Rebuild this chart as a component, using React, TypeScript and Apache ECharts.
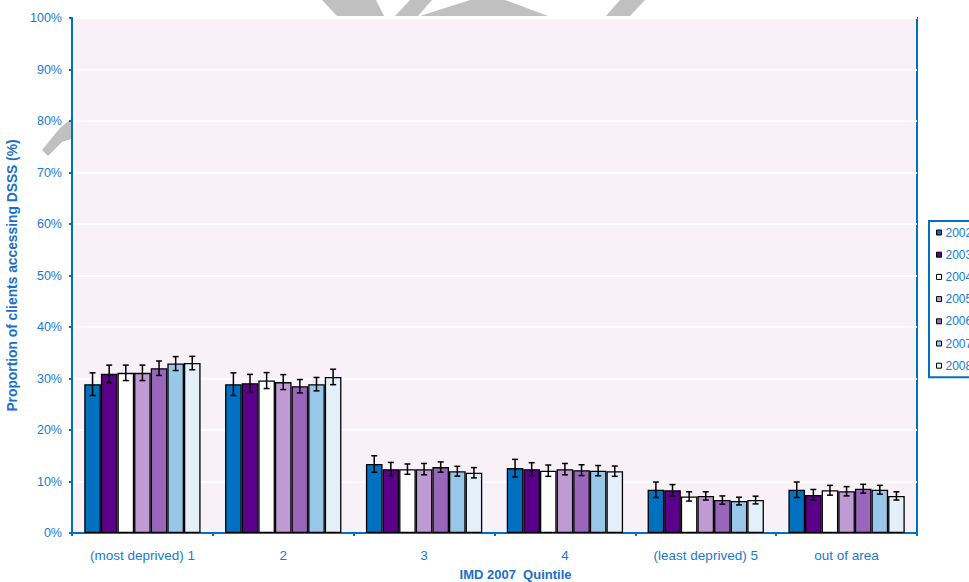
import React, { useEffect, useRef } from "react";
import * as echarts from "echarts";

const categories = ["(most deprived) 1", "2", "3", "4", "(least deprived) 5", "out of area"];
const years = ["2002", "2003", "2004", "2005", "2006", "2007", "2008"];

const v2002 = [28.9, 28.9, 13.4, 12.6, 8.4, 8.4];
const v2003 = [30.9, 29.1, 12.4, 12.4, 8.3, 7.4];
const v2004 = [31.1, 29.6, 12.4, 12.1, 7.1, 8.3];
const v2005 = [31.1, 29.3, 12.4, 12.4, 7.2, 8.1];
const v2006 = [32.0, 28.5, 12.8, 12.2, 6.4, 8.6];
const v2007 = [32.9, 28.9, 12.0, 12.1, 6.2, 8.4];
const v2008 = [33.0, 30.3, 11.7, 12.0, 6.4, 7.2];

const e2002 = [2.2, 2.2, 1.6, 1.7, 1.5, 1.5];
const e2003 = [1.7, 1.7, 1.3, 1.25, 1.1, 1.05];
const e2004 = [1.5, 1.55, 1.0, 1.1, 0.9, 0.95];
const e2005 = [1.5, 1.45, 1.1, 1.1, 0.8, 0.9];
const e2006 = [1.4, 1.3, 1.0, 1.05, 0.8, 0.85];
const e2007 = [1.35, 1.3, 0.95, 1.0, 0.75, 0.85];
const e2008 = [1.3, 1.5, 1.0, 1.0, 0.75, 0.8];

const yTicks = [0, 10, 20, 30, 40, 50, 60, 70, 80, 90, 100];

const values = [v2002, v2003, v2004, v2005, v2006, v2007, v2008];
const errors = [e2002, e2003, e2004, e2005, e2006, e2007, e2008];
const colors = ["#0070C0", "#5A008A", "#FFFFFF", "#C09AD4", "#9966BB", "#99C7EA", "#E3F0FA"];

const GAP = 0.174;
const BLUE = "#0070C0";
const LABEL = "#2178D2";
const TITLE = "#1A6FC8";

export default function App() {
  const ref = useRef<HTMLDivElement>(null);
  useEffect(() => {
    document.body.style.margin = "0";
    const chart = echarts.init(ref.current!, null, { renderer: "svg" });
    const n = years.length;
    const barSeries = years.map((y, i) => ({
      name: y,
      type: "bar",
      data: values[i],
      barGap: "0%",
      barCategoryGap: (GAP * 100).toFixed(1) + "%",
      itemStyle: { color: colors[i], borderColor: "#000", borderWidth: 1.3 },
      z: 2,
    }));
    const errSeries = years.map((y, i) => ({
      name: y + " err",
      type: "custom",
      z: 5,
      data: values[i].map((v, ci) => [ci, v, errors[i][ci]]),
      renderItem: (params: any, api: any) => {
        const ci = api.value(0);
        const val = api.value(1);
        const err = api.value(2);
        const c = api.coord([ci, val]);
        const catW = api.size([1, 0])[0];
        const total = catW * (1 - GAP);
        const bw = total / n;
        const x = c[0] - total / 2 + (i + 0.5) * bw;
        const top = api.coord([ci, val + err])[1];
        const bot = api.coord([ci, val - err])[1];
        const cap = 3;
        const st = { stroke: "#000", lineWidth: 1.5 };
        return {
          type: "group",
          children: [
            { type: "line", shape: { x1: x, y1: top, x2: x, y2: bot }, style: st },
            { type: "line", shape: { x1: x - cap, y1: top, x2: x + cap, y2: top }, style: st },
            { type: "line", shape: { x1: x - cap, y1: bot, x2: x + cap, y2: bot }, style: st },
          ],
        };
      },
    }));
    const gray = { fill: "#C0C0C0" };
    chart.setOption({
      animation: false,
      textStyle: { fontFamily: "Liberation Sans, Arial, sans-serif" },
      graphic: [
        { type: "polygon", z: -1, shape: { points: [[322, 0], [376, 0], [384, 16], [337, 16]] }, style: gray },
        { type: "polygon", z: -1, shape: { points: [[395, 16], [410, 0], [432, 0], [418, 16]] }, style: gray },
        { type: "polygon", z: -1, shape: { points: [[470, 0], [505, 0], [548, 16], [420, 16]] }, style: gray },
        { type: "polygon", z: -1, shape: { points: [[606, 16], [620, 0], [645, 0], [630, 16]] }, style: gray },
        { type: "polygon", z: -1, shape: { points: [[42, 150], [60, 128], [71, 119], [71, 139], [62, 142], [48, 156]] }, style: gray },
      ],
      grid: {
        left: 72,
        right: 52,
        top: 18,
        bottom: 49,
        containLabel: false,
        outerBoundsMode: "none",
        show: true,
        backgroundColor: "#F8F2F8",
        borderColor: BLUE,
        borderWidth: 2,
      },
      legend: {
        data: years,
        orient: "vertical",
        left: 929,
        top: 221,
        icon: "rect",
        itemWidth: 5,
        itemHeight: 5,
        itemGap: 9.2,
        padding: [5, 6, 5, 7],
        borderColor: BLUE,
        borderWidth: 2,
        backgroundColor: "#FFFFFF",
        itemStyle: { borderColor: "#000", borderWidth: 1 },
        textStyle: { color: LABEL, fontSize: 12, lineHeight: 13, padding: [0, 0, 0, -1] },
      },
      xAxis: {
        type: "category",
        data: categories,
        axisLine: { show: true, lineStyle: { color: BLUE, width: 2 } },
        axisTick: { show: true, length: 3, lineStyle: { color: BLUE, width: 2 } },
        axisLabel: { color: LABEL, fontSize: 13.5, margin: 15 },
        name: "IMD 2007  Quintile",
        nameLocation: "middle",
        nameGap: 35,
        nameTextStyle: { color: TITLE, fontSize: 13, fontWeight: "bold", padding: [0, 0, 0, 42] },
      },
      yAxis: {
        type: "value",
        min: yTicks[0],
        max: yTicks[yTicks.length - 1],
        interval: 10,
        axisLine: { show: true, lineStyle: { color: BLUE, width: 2 } },
        axisTick: { show: true, length: 3, lineStyle: { color: BLUE, width: 2 } },
        axisLabel: { color: LABEL, fontSize: 12.5, margin: 10, formatter: "{value}%" },
        splitLine: { show: true, lineStyle: { color: "#FFFFFF", width: 2 } },
        name: "Proportion of clients accessing DSSS (%)",
        nameLocation: "middle",
        nameGap: 45,
        nameTextStyle: { color: TITLE, fontSize: 13.8, fontWeight: "bold" },
      },
      series: [...barSeries, ...errSeries],
    });
    return () => chart.dispose();
  }, []);
  return <div ref={ref} style={{ position: "absolute", left: 0, top: 0, width: 969, height: 582 }} />;
}
